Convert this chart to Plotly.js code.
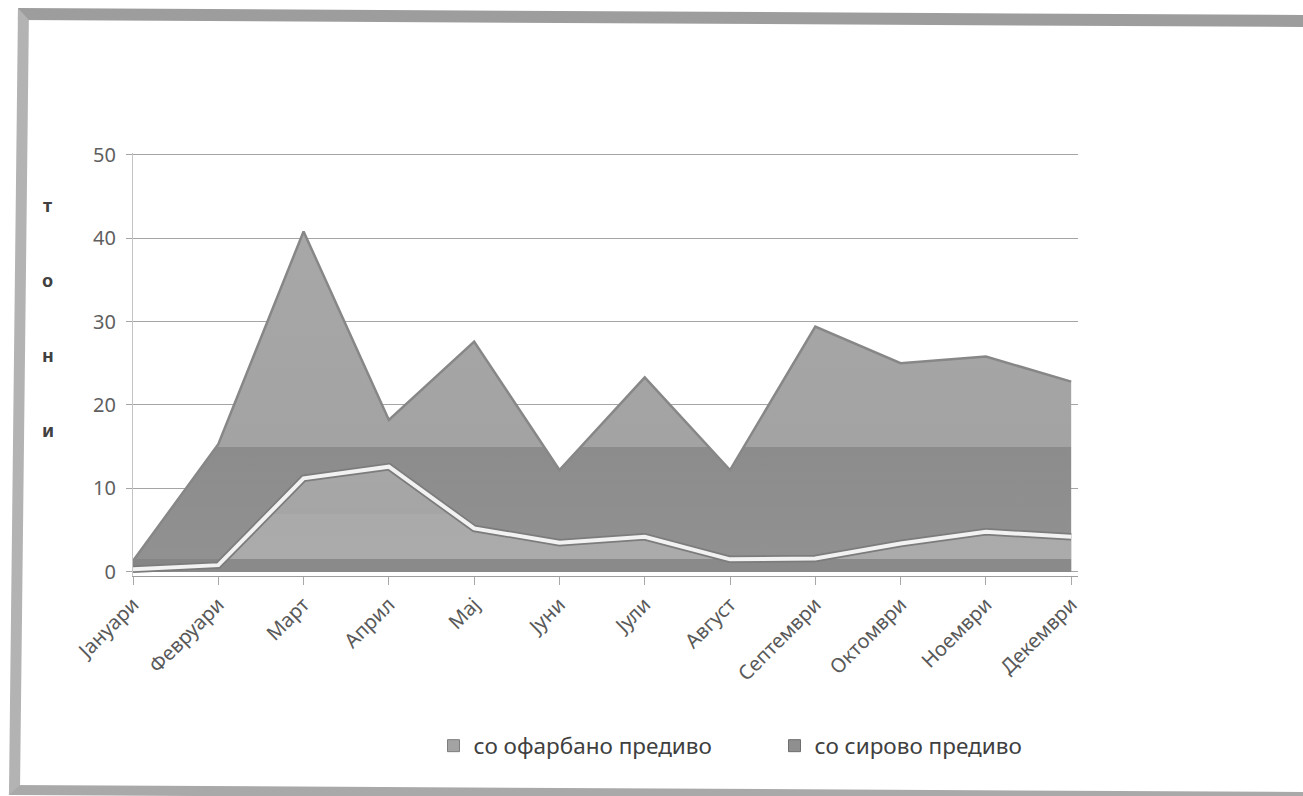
<!DOCTYPE html>
<html>
<head>
<meta charset="utf-8">
<script src="https://cdn.plot.ly/plotly-3.0.1.min.js"></script>
<style>
  html, body { margin: 0; padding: 0; background: #ffffff; }
  #wrap { position: relative; width: 1303px; height: 796px; overflow: hidden; background: #fff; }
  #chart { position: absolute; left: 0; top: 0; width: 1303px; height: 796px; }
  /* printed frame round the chart, slightly skewed like a scanned page */
  #frame {
    position: absolute; left: 18px; top: 8px; width: 1320px; height: 765px;
    border-top: 12px solid #9d9d9d; border-left: 11px solid #b3b3b3; border-bottom: 10px solid #a9a9a9;
    transform: matrix(1, 0.0054, -0.0115, 1, 0, 0); transform-origin: 0 0;
    pointer-events: none; z-index: 2;
  }
</style>
</head>
<body>
<div id="wrap">
  <div id="chart"></div>
  <div id="frame"></div>
</div>
<script>
// Monthly production, tonnes
const months = ['Јануари', 'Февруари', 'Март', 'Април', 'Мај', 'Јуни',
                'Јули', 'Август', 'Септември', 'Октомври', 'Ноември', 'Декември'];
const dyedYarn = [0.3, 0.8, 11.2, 12.6, 5.2, 3.5, 4.2, 1.5, 1.6, 3.4, 4.8, 4.2];
const rawYarn  = [1.3, 15.3, 40.8, 18.2, 27.6, 12.2, 23.3, 12.2, 29.4, 25.0, 25.8, 22.8];
const seriesNames = ['со офарбано предиво', 'со сирово предиво'];
const yTicks = [0, 10, 20, 30, 40, 50];
const yTitleLetters = ['т', 'о', 'н', 'и'];

const FONT = 'Noto Sans, Open Sans, DejaVu Sans, sans-serif';
const xIdx = months.map((m, i) => i);

const traces = [
  // back area: raw yarn
  {
    x: xIdx, y: rawYarn, type: 'scatter', mode: 'lines', fill: 'tozeroy',
    line: {color: '#878787', width: 2.5},
    fillgradient: {
      type: 'vertical', start: 0, stop: 50,
      colorscale: [[0, '#858585'], [0.03, '#858585'], [0.03, '#919191'], [0.3, '#8c8c8c'],
                   [0.3, '#a3a3a3'], [1, '#a9a9a9']]
    },
    showlegend: false, hoverinfo: 'skip'
  },
  // front area: dyed yarn
  {
    x: xIdx, y: dyedYarn, type: 'scatter', mode: 'lines', fill: 'tozeroy',
    line: {width: 0, color: 'rgba(0,0,0,0)'},
    fillgradient: {
      type: 'vertical', start: 0, stop: 15,
      colorscale: [[0, '#8a8a8a'], [0.1, '#8a8a8a'], [0.1, '#ababab'], [0.46, '#aaaaaa'],
                   [0.46, '#a5a5a5'], [1, '#a8a8a8']]
    },
    showlegend: false, hoverinfo: 'skip'
  },
  // bevelled edge of the front area
  {
    x: xIdx, y: dyedYarn, type: 'scatter', mode: 'lines',
    line: {color: '#7c7c7c', width: 7.5}, showlegend: false, hoverinfo: 'skip'
  },
  {
    x: xIdx, y: dyedYarn, type: 'scatter', mode: 'lines',
    line: {color: '#f2f2f2', width: 4}, showlegend: false, hoverinfo: 'skip'
  },
  // legend keys
  {
    x: [null], y: [null], type: 'scatter', mode: 'markers', name: seriesNames[0],
    marker: {symbol: 'square', size: 12, color: '#a3a3a3', line: {color: '#7d7d7d', width: 1}}
  },
  {
    x: [null], y: [null], type: 'scatter', mode: 'markers', name: seriesNames[1],
    marker: {symbol: 'square', size: 12, color: '#8f8f8f', line: {color: '#6e6e6e', width: 1}}
  }
];

// vertical unit label, one letter per row
const plotTop = 153, plotBottom = 576;
const letterTop = 205, letterStep = 75;
const letterNotes = yTitleLetters.map((ch, i) => ({
  xref: 'paper', yref: 'paper', x: -0.09,
  y: (plotBottom - (letterTop + i * letterStep)) / (plotBottom - plotTop),
  xanchor: 'center', yanchor: 'middle', showarrow: false,
  text: '<b>' + ch + '</b>',
  font: {size: 18, color: '#404040', family: FONT}
}));

const layout = {
  width: 1303, height: 796,
  margin: {l: 133, r: 225, t: plotTop, b: 796 - plotBottom},
  paper_bgcolor: 'rgba(0,0,0,0)', plot_bgcolor: 'rgba(0,0,0,0)',
  font: {family: FONT, color: '#595959'},
  showlegend: true,
  legend: {
    orientation: 'h', x: 0.318, xanchor: 'left', y: -0.402, yanchor: 'middle',
    font: {size: 22.5, color: '#404040', family: FONT},
    entrywidth: 296, entrywidthmode: 'pixels', itemwidth: 30,
    bgcolor: 'rgba(0,0,0,0)'
  },
  xaxis: {
    range: [0, 11.08],
    tickmode: 'array', tickvals: xIdx, ticktext: months,
    tickangle: -45, tickfont: {size: 20, color: '#595959', family: FONT},
    showgrid: false, zeroline: false,
    showline: true, linecolor: '#9e9e9e', linewidth: 1,
    ticks: 'outside', ticklen: 8, tickcolor: '#a8a8a8'
  },
  yaxis: {
    range: [-0.5, 50.2],
    tickmode: 'array', tickvals: yTicks,
    tickfont: {size: 20, color: '#5f5f5f', family: FONT},
    ticklabelstandoff: 6,
    showgrid: true, gridcolor: '#a5a5a5', gridwidth: 1,
    zeroline: false, showline: true, linecolor: '#c4c4c4', linewidth: 1,
    ticks: 'outside', ticklen: 6, tickcolor: '#a5a5a5'
  },
  annotations: letterNotes
};

Plotly.newPlot('chart', traces, layout, {displayModeBar: false, staticPlot: true});
</script>
</body>
</html>
